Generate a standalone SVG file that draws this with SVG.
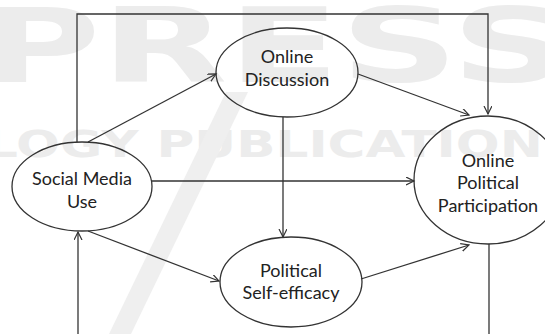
<svg xmlns="http://www.w3.org/2000/svg" width="545" height="334" viewBox="0 0 545 334">
  <defs>
    <style>
      .wm { fill: #ececec; font-family: "DejaVu Sans", "Liberation Sans", sans-serif; font-weight: bold; }
      .node ellipse { fill: none; stroke: #333; stroke-width: 1.3; }
      .node text { font-family: Lato, "Open Sans", "Liberation Sans", sans-serif; font-size: 18px; fill: #222; text-anchor: middle; }
      .conn { fill: none; stroke: #333; stroke-width: 1.3; }
    </style>
    <marker id="arr" markerUnits="userSpaceOnUse" markerWidth="10" markerHeight="10" refX="8" refY="4" orient="auto">
      <path d="M0,0 L8,4 L0,8" fill="none" stroke="#333" stroke-width="1.2"/>
    </marker>
  </defs>
  <rect width="545" height="334" fill="#fff"/>
  <g id="watermark">
    <text class="wm" x="-20" y="82" font-size="104" textLength="590" lengthAdjust="spacingAndGlyphs">PRESS</text>
    <text class="wm" x="-15" y="157" font-size="37" textLength="595" lengthAdjust="spacingAndGlyphs">LOGY PUBLICATIONS</text>
    <polygon points="226,92 248,92 131,334 109,334" fill="#efefef"/>
  </g>
  <g id="connectors">
    <polyline class="conn" points="77,142 77,14 488,14 488,114" marker-end="url(#arr)"/>
    <line class="conn" x1="88" y1="142" x2="216" y2="74" marker-end="url(#arr)"/>
    <line class="conn" x1="358" y1="74" x2="469" y2="115" marker-end="url(#arr)"/>
    <line class="conn" x1="152" y1="181" x2="414" y2="181" marker-end="url(#arr)"/>
    <line class="conn" x1="283" y1="117" x2="283" y2="237" marker-end="url(#arr)"/>
    <line class="conn" x1="88" y1="231" x2="219" y2="281" marker-end="url(#arr)"/>
    <line class="conn" x1="361" y1="279" x2="469" y2="245" marker-end="url(#arr)"/>
    <line class="conn" x1="78" y1="334" x2="78" y2="232" marker-end="url(#arr)"/>
    <line class="conn" x1="489" y1="244" x2="489" y2="334"/>
  </g>
  <g id="social-media-use" class="node">
    <ellipse cx="82" cy="186.5" rx="70" ry="44.5"/>
    <text x="82" y="185">Social Media</text>
    <text x="82" y="208">Use</text>
  </g>
  <g id="online-discussion" class="node">
    <ellipse cx="287" cy="72.5" rx="71" ry="44.5"/>
    <text x="287" y="63">Online</text>
    <text x="287" y="86">Discussion</text>
  </g>
  <g id="political-self-efficacy" class="node">
    <ellipse cx="291" cy="282" rx="71" ry="45"/>
    <text x="291" y="277">Political</text>
    <text x="291" y="299">Self-efficacy</text>
  </g>
  <g id="online-political-participation" class="node">
    <ellipse cx="488" cy="180" rx="74" ry="64"/>
    <text x="488" y="167">Online</text>
    <text x="488" y="189">Political</text>
    <text x="488" y="212">Participation</text>
  </g>
</svg>
